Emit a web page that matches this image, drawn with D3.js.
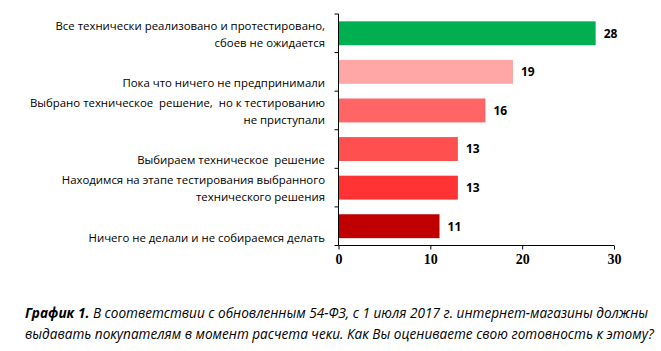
<!DOCTYPE html>
<html lang="ru">
<head>
<meta charset="UTF-8">
<title>График 1</title>
<style>
  body { margin: 0; background: #fff; }
  text { white-space: pre; }
  .cat { font-family: "Open Sans", sans-serif; font-size: 11.4px; fill: #000; }
  .val { font-family: "Open Sans", sans-serif; font-size: 12px; font-weight: bold; fill: #000; }
  .x.axis text { font-family: "Liberation Serif", "Times New Roman", serif; font-size: 14px; font-weight: bold; fill: #000; }
  .axis path, .axis line { stroke: #000; }
  .caption { font-family: "Open Sans", sans-serif; font-size: 13.6px; font-style: italic; fill: #000; }
</style>
</head>
<body>
<svg height="351" width="661"></svg>

<script src="https://d3js.org/d3.v7.min.js"></script>
<script>

  var categories = [
    ["Все технически реализовано и протестировано,", "сбоев не ожидается"],
    ["Пока что ничего не предпринимали"],
    ["Выбрано техническое  решение,  но к тестированию", "не приступали"],
    ["Выбираем техническое  решение"],
    ["Находимся на этапе тестирования выбранного", "технического решения"],
    ["Ничего не делали и не собираемся делать"]
  ];
  var values = [28, 19, 16, 13, 13, 11];
  var barColors = ["#00b050", "#ffa7a7", "#ff6565", "#ff5050", "#ff3333", "#c00000"];
  var xTicks = [0, 10, 20, 30];
  var captionLines = [
    ["График 1.", " В соответствии с обновленным 54-ФЗ, с 1 июля 2017 г. интернет-магазины должны"],
    ["", "выдавать покупателям в момент расчета чеки. Как Вы оцениваете свою готовность к этому?"]
  ];

  var svg = d3.select("svg");
  var plotLeft = 338.5, plotRight = 614, plotTop = 14, plotBottom = 245.5;

  var x = d3.scaleLinear().domain([0, 30]).range([plotLeft, plotRight]);
  var y = d3.scaleBand().domain(d3.range(values.length)).range([plotTop, plotBottom]).paddingInner(0.38).paddingOuter(0.19);
  var band = d3.scaleBand().domain(d3.range(values.length)).range([plotTop, plotBottom]);

  svg.selectAll(".bar")
    .data(values)
    .enter()
    .append("rect")
    .attr("class", "bar")
    .attr("x", x(0))
    .attr("y", function(d, i) { return y(i); })
    .attr("width", function(d) { return x(d) - x(0); })
    .attr("height", y.bandwidth())
    .attr("fill", function(d, i) { return barColors[i]; });

  svg.selectAll(".val")
    .data(values)
    .enter()
    .append("text")
    .attr("class", "val")
    .attr("x", function(d) { return x(d) + 8; })
    .attr("y", function(d, i) { return y(i) + y.bandwidth() / 2; })
    .attr("dy", "0.36em")
    .text(function(d) { return d; });

  // category labels: single lines sit near band bottom, two-line ones are centered
  var lineH = 17;
  categories.forEach(function(lines, i) {
    var t = svg.append("text").attr("class", "cat").attr("text-anchor", "end");
    var startY;
    if (lines.length === 1) {
      startY = band(i) + band.bandwidth() - 4;
    } else {
      startY = band(i) + band.bandwidth() / 2 - lineH / 2 + 5;
    }
    lines.forEach(function(s, j) {
      t.append("tspan").attr("x", 325).attr("y", startY + j * lineH).text(s);
    });
  });

  // y axis with ticks at band edges
  var yEdges = d3.range(values.length + 1).map(function(i) { return plotTop + i * band.bandwidth(); });
  var yAxis = svg.append("g").attr("class", "axis");
  yAxis.append("line").attr("x1", plotLeft).attr("x2", plotLeft).attr("y1", plotTop).attr("y2", plotBottom);
  yAxis.selectAll(".tk").data(yEdges).enter().append("line")
    .attr("x1", plotLeft - 4).attr("x2", plotLeft).attr("y1", function(d) { return d; }).attr("y2", function(d) { return d; });

  svg.append("g")
    .attr("class", "x axis")
    .attr("transform", "translate(0," + plotBottom + ")")
    .call(d3.axisBottom(x).tickValues(xTicks).tickSize(4).tickSizeOuter(0).tickPadding(5));
  svg.selectAll(".x.axis .domain").attr("d", "M" + plotLeft + ",0H" + plotRight);

  captionLines.forEach(function(parts, i) {
    var t = svg.append("text").attr("class", "caption").attr("x", 25).attr("y", 318 + i * 21);
    if (parts[0]) t.append("tspan").attr("font-weight", "bold").text(parts[0]);
    t.append("tspan").text(parts[1]);
  });

</script>
</body>
</html>
